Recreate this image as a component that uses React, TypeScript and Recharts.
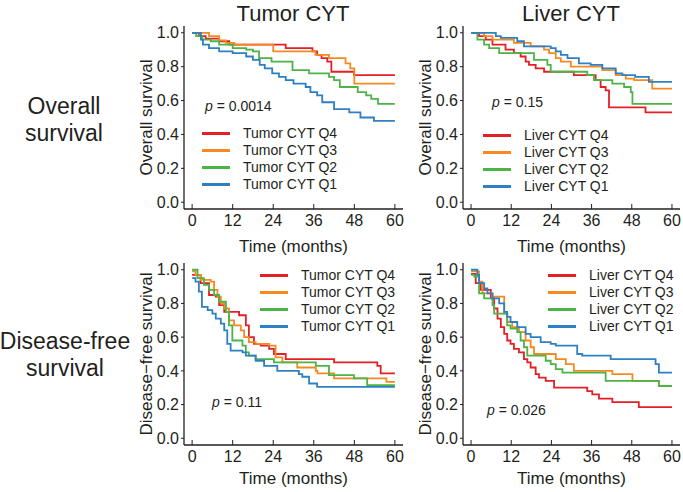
import { LineChart, Line, XAxis, YAxis } from 'recharts';

type Pt = [number, number];

const timeTicks = [0, 12, 24, 36, 48, 60];
const survTicks = [0, 0.2, 0.4, 0.6, 0.8, 1.0];
const quartiles = ['Q4', 'Q3', 'Q2', 'Q1'];
const qColors = ['#e41f26', '#f68a20', '#4cb447', '#2f80c3'];

// overall survival, tumor CYT (time in months, survival)
const tumorOsQ4: Pt[] = [[0, 1], [2, 0.98], [4, 0.965], [8, 0.95], [11, 0.93], [27.7, 0.91], [35.6, 0.89], [37, 0.87], [38.3, 0.85], [40, 0.83], [41.2, 0.77], [47.9, 0.75], [60, 0.75]];
const tumorOsQ3: Pt[] = [[0, 1], [5, 0.98], [8, 0.955], [10, 0.94], [12.5, 0.93], [24, 0.89], [36.5, 0.87], [40.5, 0.85], [45.4, 0.82], [46.8, 0.79], [48, 0.7], [60, 0.7]];
const tumorOsQ2: Pt[] = [[0, 1], [1.2, 0.98], [3, 0.96], [5.5, 0.95], [8, 0.93], [12, 0.91], [16, 0.9], [18, 0.89], [19.8, 0.85], [23.5, 0.83], [29.7, 0.78], [34.6, 0.76], [40.5, 0.74], [42, 0.72], [43.7, 0.68], [49, 0.65], [51.5, 0.63], [53, 0.61], [55, 0.58], [60, 0.58]];
const tumorOsQ1: Pt[] = [[0, 1], [2.6, 0.96], [3.2, 0.93], [5, 0.91], [8, 0.89], [12, 0.88], [16, 0.86], [18, 0.84], [20, 0.81], [21.5, 0.79], [23.7, 0.76], [25.7, 0.74], [27.7, 0.72], [30, 0.7], [33.6, 0.68], [35, 0.65], [37, 0.63], [38.5, 0.59], [42, 0.55], [46.5, 0.53], [49.8, 0.5], [53.8, 0.48], [60, 0.48]];

// overall survival, liver CYT
const liverOsQ4: Pt[] = [[0, 1], [2.4, 0.98], [4.4, 0.96], [6.4, 0.93], [10.3, 0.9], [12.8, 0.88], [14.8, 0.86], [16.3, 0.83], [17.3, 0.81], [19.3, 0.79], [21.8, 0.77], [30.7, 0.75], [37.2, 0.72], [38.7, 0.68], [40.2, 0.66], [41.2, 0.56], [52.1, 0.53], [60, 0.53]];
const liverOsQ3: Pt[] = [[0, 1], [3.9, 0.98], [6.4, 0.96], [12.8, 0.94], [17.8, 0.92], [21.8, 0.9], [23.3, 0.88], [25.3, 0.85], [26.8, 0.83], [29.8, 0.8], [39.2, 0.78], [43.2, 0.75], [46.2, 0.73], [48.7, 0.72], [54.1, 0.67], [60, 0.67]];
const liverOsQ2: Pt[] = [[0, 1], [1.9, 0.96], [3.9, 0.93], [5.4, 0.91], [8.4, 0.88], [18.8, 0.84], [22.8, 0.81], [23.8, 0.77], [34.7, 0.75], [36.7, 0.72], [42.2, 0.7], [45.7, 0.68], [47.7, 0.65], [48.2, 0.58], [60, 0.58]];
const liverOsQ1: Pt[] = [[0, 1], [7.4, 0.98], [8.9, 0.97], [13.8, 0.95], [15.8, 0.92], [23.8, 0.91], [25.3, 0.89], [26.8, 0.87], [28.8, 0.85], [32.2, 0.82], [35.7, 0.81], [39.2, 0.79], [43.2, 0.76], [45.2, 0.75], [49, 0.74], [53.1, 0.71], [60, 0.71]];

// disease-free survival, tumor CYT
const tumorDfsQ4: Pt[] = [[0, 0.97], [2.5, 0.92], [5, 0.85], [7, 0.84], [8, 0.79], [9.5, 0.75], [13.9, 0.73], [15.9, 0.67], [16.8, 0.6], [18.3, 0.56], [20.3, 0.55], [22.8, 0.53], [24.2, 0.5], [27.7, 0.47], [42, 0.45], [54.8, 0.43], [55.8, 0.385], [60, 0.385]];
const tumorDfsQ3: Pt[] = [[0, 0.99], [1, 0.97], [2.6, 0.94], [5.5, 0.93], [6.5, 0.88], [7.5, 0.84], [8.5, 0.8], [9.5, 0.77], [10.9, 0.7], [12.4, 0.67], [14.4, 0.64], [15.4, 0.6], [16.8, 0.57], [18.8, 0.56], [22.8, 0.55], [24.7, 0.48], [26.7, 0.45], [31.1, 0.42], [36.6, 0.4], [37.1, 0.385], [42, 0.355], [57.5, 0.335], [60, 0.335]];
const tumorDfsQ2: Pt[] = [[0, 1], [1.6, 0.95], [3.5, 0.91], [5, 0.88], [6.5, 0.85], [8, 0.81], [10, 0.75], [10.9, 0.67], [11.9, 0.58], [14.9, 0.55], [15.9, 0.51], [16.8, 0.49], [18.8, 0.47], [24.2, 0.45], [36.6, 0.43], [40.5, 0.375], [47.9, 0.355], [51.8, 0.315], [60, 0.315]];
const tumorDfsQ1: Pt[] = [[0, 0.95], [1, 0.93], [2, 0.87], [2.9, 0.78], [4.6, 0.76], [6, 0.74], [7, 0.71], [8.5, 0.68], [9.5, 0.64], [10.4, 0.56], [11.4, 0.52], [14.9, 0.51], [15.9, 0.49], [18.8, 0.46], [21.3, 0.43], [25.2, 0.4], [31.6, 0.38], [32.6, 0.365], [34.6, 0.325], [37, 0.305], [60, 0.305]];

// disease-free survival, liver CYT
const liverDfsQ4: Pt[] = [[0, 0.975], [1.4, 0.92], [2.9, 0.88], [5.9, 0.83], [6.9, 0.77], [7.9, 0.71], [8.9, 0.66], [9.9, 0.62], [10.8, 0.58], [11.8, 0.56], [12.8, 0.53], [14.3, 0.51], [15.8, 0.47], [16.8, 0.45], [17.8, 0.42], [19.3, 0.38], [20.3, 0.36], [22.3, 0.34], [24.8, 0.3], [34.7, 0.28], [36.2, 0.26], [38.2, 0.235], [42.2, 0.215], [50.1, 0.185], [60, 0.185]];
const liverDfsQ3: Pt[] = [[0, 0.99], [2.4, 0.93], [3.4, 0.86], [6.4, 0.84], [9.9, 0.74], [10.8, 0.69], [12.3, 0.66], [14.3, 0.63], [16.3, 0.58], [17.8, 0.54], [18.8, 0.5], [25.3, 0.47], [28.3, 0.44], [30.7, 0.4], [42.2, 0.38], [48.2, 0.34], [56.1, 0.31], [60, 0.31]];
const liverDfsQ2: Pt[] = [[0, 0.97], [1, 0.96], [2.4, 0.86], [3.9, 0.83], [6.4, 0.79], [6.9, 0.74], [10.8, 0.67], [11.8, 0.65], [13.8, 0.63], [14.8, 0.58], [15.8, 0.54], [16.8, 0.49], [22.3, 0.46], [23.8, 0.44], [25.3, 0.41], [27.3, 0.39], [40.2, 0.34], [56.1, 0.31], [60, 0.31]];
const liverDfsQ1: Pt[] = [[0, 1], [1.9, 0.97], [2.4, 0.92], [3.9, 0.89], [4.9, 0.86], [6.4, 0.83], [8.4, 0.8], [9.9, 0.75], [10.8, 0.72], [11.8, 0.69], [13.8, 0.66], [16.3, 0.62], [17.8, 0.6], [20.8, 0.57], [23.8, 0.56], [25.3, 0.55], [31.7, 0.5], [33.2, 0.49], [41.7, 0.47], [55.1, 0.44], [56.1, 0.39], [60, 0.39]];

const FONT = '"Liberation Sans", Arial, Helvetica, sans-serif';
const INK = '#231f20';
const Y_AXIS_W = 74;
const TOP_PAD = 6;
const X_AXIS_H = 48;
const RIGHT_PAD = 3;

type Box = { x0: number; x1: number; y0: number; y1: number };

function Panel({ box, prefix, yTitle, curves, p, pPos, legendPos, xLabelOffset }: {
  box: Box; prefix: string; yTitle: string; curves: Pt[][]; p: string;
  pPos: { x: number; y: number }; legendPos: { x: number; y: number }; xLabelOffset: number;
}) {
  const left = box.x0 - Y_AXIS_W;
  const top = box.y0 - TOP_PAD;
  const w = Y_AXIS_W + (box.x1 - box.x0) + RIGHT_PAD;
  const h = TOP_PAD + (box.y1 - box.y0) + X_AXIS_H;
  const tickStyle = { fill: INK, fontSize: 16, fontFamily: FONT };
  const labelStyle = { fill: INK, fontSize: 17, fontFamily: FONT };

  return (
    <div style={{ position: 'absolute', left, top, width: w, height: h }}>
      <LineChart width={w} height={h} margin={{ top: TOP_PAD, right: RIGHT_PAD, bottom: 0, left: 0 }}>
        <XAxis
          type="number"
          dataKey="t"
          domain={[-2.4, 62.4]}
          ticks={timeTicks}
          interval={0}
          allowDataOverflow
          height={X_AXIS_H}
          tickSize={-5}
          tickMargin={11}
          axisLine={{ stroke: INK, strokeWidth: 1.3 }}
          tickLine={{ stroke: INK, strokeWidth: 1 }}
          tick={tickStyle}
          label={{ value: 'Time (months)', position: 'insideBottom', offset: xLabelOffset, style: labelStyle }}
        />
        <YAxis
          type="number"
          dataKey="s"
          domain={[-0.04, 1.04]}
          ticks={survTicks}
          interval={0}
          allowDataOverflow
          width={Y_AXIS_W}
          tickSize={3}
          tickMargin={2}
          tickFormatter={(v: number) => v.toFixed(1)}
          axisLine={{ stroke: INK, strokeWidth: 1.3 }}
          tickLine={{ stroke: INK, strokeWidth: 1 }}
          tick={tickStyle}
          label={{ value: yTitle, angle: -90, position: 'insideLeft', offset: 36, style: { ...labelStyle, textAnchor: 'middle' } }}
        />
        {curves.map((c, i) => (
          <Line
            key={quartiles[i]}
            name={`${prefix} ${quartiles[i]}`}
            data={c.map(([t, s]) => ({ t, s }))}
            dataKey="s"
            type="stepAfter"
            stroke={qColors[i]}
            strokeWidth={1.8}
            dot={false}
            activeDot={false}
            isAnimationActive={false}
          />
        ))}
      </LineChart>
      <div style={{ position: 'absolute', left: legendPos.x - left, top: legendPos.y - 8.5 - top, fontFamily: FONT, fontSize: 14, color: INK }}>
        {quartiles.map((q, i) => (
          <div key={q} style={{ display: 'flex', alignItems: 'center', height: 17, whiteSpace: 'nowrap' }}>
            <span style={{ display: 'inline-block', width: 28, height: 3, background: qColors[i], marginRight: 13 }} />
            <span>{`${prefix} ${q}`}</span>
          </div>
        ))}
      </div>
      <div style={{ position: 'absolute', left: pPos.x - left, top: pPos.y - 9 - top, fontFamily: FONT, fontSize: 14, color: INK, lineHeight: '18px', whiteSpace: 'nowrap' }}>
        <i>p</i> = {p}
      </div>
    </div>
  );
}

const textBase = { position: 'absolute' as const, fontFamily: FONT, color: INK, textAlign: 'center' as const, whiteSpace: 'nowrap' as const };

export default function App() {
  return (
    <div style={{ position: 'absolute', left: 0, top: 0, width: 683, height: 492, background: '#fff', overflow: 'hidden' }}>
      <div style={{ ...textBase, left: 193, top: 1, width: 200, fontSize: 22, lineHeight: '26px' }}>Tumor CYT</div>
      <div style={{ ...textBase, left: 471, top: 1, width: 200, fontSize: 22, lineHeight: '26px' }}>Liver CYT</div>
      <div style={{ ...textBase, left: -6, top: 93, width: 140, fontSize: 23, lineHeight: '27px' }}>Overall<br />survival</div>
      <div style={{ ...textBase, left: -5, top: 328, width: 140, fontSize: 23, lineHeight: '27px' }}>Disease-free<br />survival</div>

      <Panel box={{ x0: 184, x1: 403, y0: 26, y1: 209 }} prefix="Tumor CYT" yTitle="Overall survival"
        curves={[tumorOsQ4, tumorOsQ3, tumorOsQ2, tumorOsQ1]} p="0.0014" xLabelOffset={5}
        pPos={{ x: 205, y: 106 }} legendPos={{ x: 202, y: 133 }} />
      <Panel box={{ x0: 463, x1: 680, y0: 26, y1: 209 }} prefix="Liver CYT" yTitle="Overall survival"
        curves={[liverOsQ4, liverOsQ3, liverOsQ2, liverOsQ1]} p="0.15" xLabelOffset={5}
        pPos={{ x: 492, y: 102 }} legendPos={{ x: 483, y: 135 }} />
      <Panel box={{ x0: 184, x1: 403, y0: 263, y1: 445 }} prefix="Tumor CYT" yTitle="Disease−free survival"
        curves={[tumorDfsQ4, tumorDfsQ3, tumorDfsQ2, tumorDfsQ1]} p="0.11" xLabelOffset={9}
        pPos={{ x: 212, y: 402 }} legendPos={{ x: 260, y: 275 }} />
      <Panel box={{ x0: 463, x1: 680, y0: 263, y1: 445 }} prefix="Liver CYT" yTitle="Disease−free survival"
        curves={[liverDfsQ4, liverDfsQ3, liverDfsQ2, liverDfsQ1]} p="0.026" xLabelOffset={9}
        pPos={{ x: 487, y: 410 }} legendPos={{ x: 548, y: 275 }} />
    </div>
  );
}
